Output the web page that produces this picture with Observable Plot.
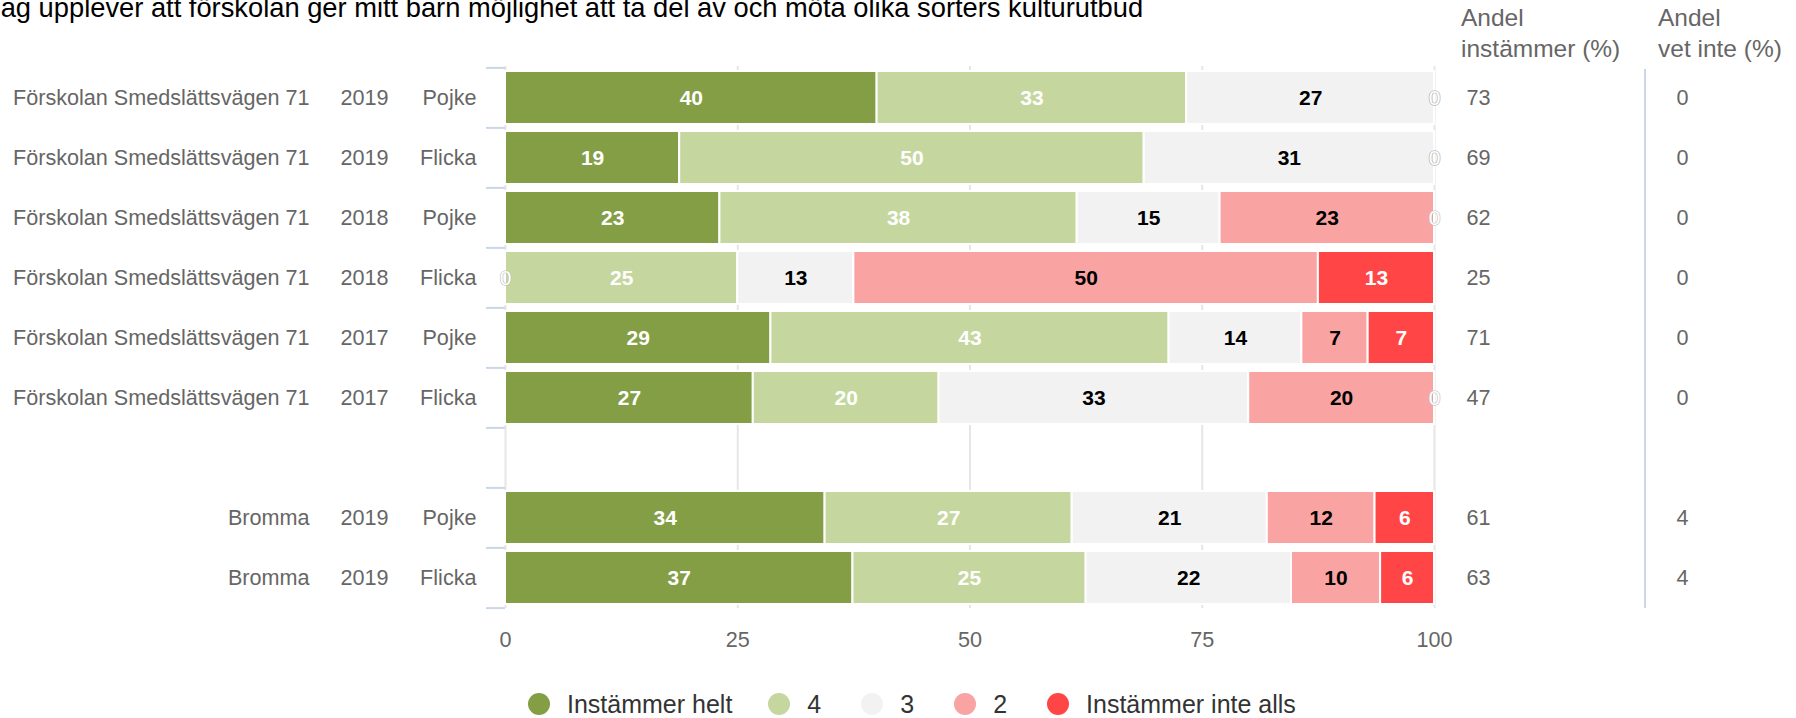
<!DOCTYPE html>
<html><head><meta charset="utf-8">
<script src="https://cdn.jsdelivr.net/npm/d3@7"></script>
<script src="https://cdn.jsdelivr.net/npm/@observablehq/plot@0.6"></script>
<style>
body{margin:0;background:#fff;}
#wrap{position:relative;width:1796px;height:718px;overflow:hidden;background:#fff;font-family:"Liberation Sans",Arial,sans-serif;}
#title{position:absolute;left:-13px;top:-6px;font-size:27.3px;line-height:1;color:#000;white-space:nowrap;}
.hdr{position:absolute;top:2px;font-size:24.5px;line-height:31px;color:#666;}
#sep{position:absolute;left:1644px;top:69px;width:2px;height:539px;background:#ccd6eb;}
#legend{position:absolute;left:528px;top:692px;height:24px;display:flex;align-items:center;gap:40px;font-size:25px;color:#333;}
.item{display:flex;align-items:center;gap:17px;}
.item:first-child{margin-right:-4px;}
.dot{width:22px;height:22px;border-radius:50%;}
#chart{position:absolute;left:0;top:0;}
</style></head>
<body>
<div id="wrap">
  <div id="chart"></div>
  <div id="title">Jag upplever att förskolan ger mitt barn möjlighet att ta del av och möta olika sorters kulturutbud</div>
  <div class="hdr" style="left:1461px">Andel<br>instämmer (%)</div>
  <div class="hdr" style="left:1658px">Andel<br>vet inte (%)</div>
  <div id="sep"></div>
  <div id="legend"></div>
</div>
<script>
// ---- data ----
const rowIds = ["r1","r2","r3","r4","r5","r6","gap","r7","r8"];
const skolor = ["Förskolan Smedslättsvägen 71","Förskolan Smedslättsvägen 71","Förskolan Smedslättsvägen 71","Förskolan Smedslättsvägen 71","Förskolan Smedslättsvägen 71","Förskolan Smedslättsvägen 71","","Bromma","Bromma"];
const ar = ["2019","2019","2018","2018","2017","2017","","2019","2019"];
const kon = ["Pojke","Flicka","Pojke","Flicka","Pojke","Flicka","","Pojke","Flicka"];
const categories = ["Instämmer helt","4","3","2","Instämmer inte alls"];
const colors = ["#839e44","#c5d79e","#f2f2f2","#faa3a3","#ff4545"];
const helt = [40, 18.75, 23.08, 0, 28.57, 26.67, null, 34.4, 37.4];
const fyra = [33.33, 50, 38.46, 25, 42.86, 20, null, 26.6, 25.1];
const tre  = [26.67, 31.25, 15.38, 12.5, 14.29, 33.33, null, 21.0, 22.1];
const tva  = [0, 0, 23.08, 50, 7.14, 20, null, 11.6, 9.6];
const inte = [0, 0, 0, 12.5, 7.14, 0, null, 6.4, 5.8];
const instammer = [73, 69, 62, 25, 71, 47, null, 61, 63];
const vetInte = [0, 0, 0, 0, 0, 0, null, 4, 4];
const xTicks = [0, 25, 50, 75, 100];

const series = [helt, fyra, tre, tva, inte];
const whiteText = new Set(["Instämmer helt","4","Instämmer inte alls"]);

const data = [];
rowIds.forEach((id, i) => {
  if (helt[i] == null) return;
  categories.forEach((c, j) => data.push({row: id, cat: c, value: series[j][i]}));
});
const rows = rowIds.map((id, i) => ({row: id, skola: skolor[i], ar: ar[i], kon: kon[i], inst: instammer[i], vet: vetInte[i]}));

// ---- layout ----
const W = 1796, H = 660, mt = 66, mb = 52, ml = 505, mr = 362;
const step = (H - mt - mb) / rowIds.length;
const FS = 21.6;
const lab = (v) => v == null ? null : String(Math.round(v));

const chart = Plot.plot({
  width: W, height: H,
  marginTop: mt, marginBottom: mb, marginLeft: ml, marginRight: mr,
  style: {fontFamily: "Liberation Sans, Arial, sans-serif", fontSize: FS + "px", color: "#666", background: "transparent", overflow: "visible"},
  x: {domain: [0, 100]},
  y: {domain: rowIds, paddingInner: 0.12, paddingOuter: 0.06},
  color: {domain: categories, range: colors},
  marks: [
    Plot.ruleX(xTicks, {stroke: "#e6e6e6", strokeWidth: 2}),
    Plot.axisY({tickSize: 19, tickFormat: () => "", label: null, stroke: "#ccd6eb", strokeWidth: 2, dy: -step / 2}),
    Plot.axisY([rowIds[rowIds.length - 1]], {tickSize: 19, tickFormat: () => "", label: null, stroke: "#ccd6eb", strokeWidth: 2, dy: step / 2}),
    Plot.barX(data, Plot.stackX({x: "value", y: "row", fill: "cat", stroke: "white", strokeWidth: 2, filter: d => d.value > 0})),
    Plot.text(data, Plot.stackX({x: "value", y: "row", text: d => (d.value > 0 && whiteText.has(d.cat)) ? lab(d.value) : null, fill: "white", fontWeight: "bold", fontSize: 21})),
    Plot.text(data, Plot.stackX({x: "value", y: "row", text: d => (d.value > 0 && !whiteText.has(d.cat)) ? lab(d.value) : null, fill: "black", fontWeight: "bold", fontSize: 21})),
    Plot.text(data, Plot.stackX({x: "value", y: "row", text: d => d.value === 0 ? "0" : null, fill: "white", stroke: "#b8b8b8", strokeWidth: 1.2, paintOrder: "stroke", fontSize: 21})),
    Plot.text(rows, {y: "row", text: d => d.skola || null, frameAnchor: "left", dx: -196, textAnchor: "end", fill: "#666", fontSize: FS}),
    Plot.text(rows, {y: "row", text: d => d.ar || null, frameAnchor: "left", dx: -141, textAnchor: "middle", fill: "#666", fontSize: FS}),
    Plot.text(rows, {y: "row", text: d => d.kon || null, frameAnchor: "left", dx: -29, textAnchor: "end", fill: "#666", fontSize: FS}),
    Plot.text(rows, {y: "row", text: d => d.inst == null ? null : String(d.inst), frameAnchor: "right", dx: 32, textAnchor: "start", fill: "#666", fontSize: FS}),
    Plot.text(rows, {y: "row", text: d => d.vet == null ? null : String(d.vet), frameAnchor: "right", dx: 242, textAnchor: "start", fill: "#666", fontSize: FS}),
    Plot.axisX({ticks: xTicks, tickSize: 0, tickPadding: 23, label: null, fontSize: FS, fill: "#666"})
  ]
});
document.getElementById("chart").appendChild(chart);

const legend = document.getElementById("legend");
categories.forEach((c, j) => {
  const item = document.createElement("div");
  item.className = "item";
  const dot = document.createElement("div");
  dot.className = "dot";
  dot.style.background = colors[j];
  const t = document.createElement("span");
  t.textContent = c;
  item.appendChild(dot); item.appendChild(t);
  legend.appendChild(item);
});
</script>
</body></html>
